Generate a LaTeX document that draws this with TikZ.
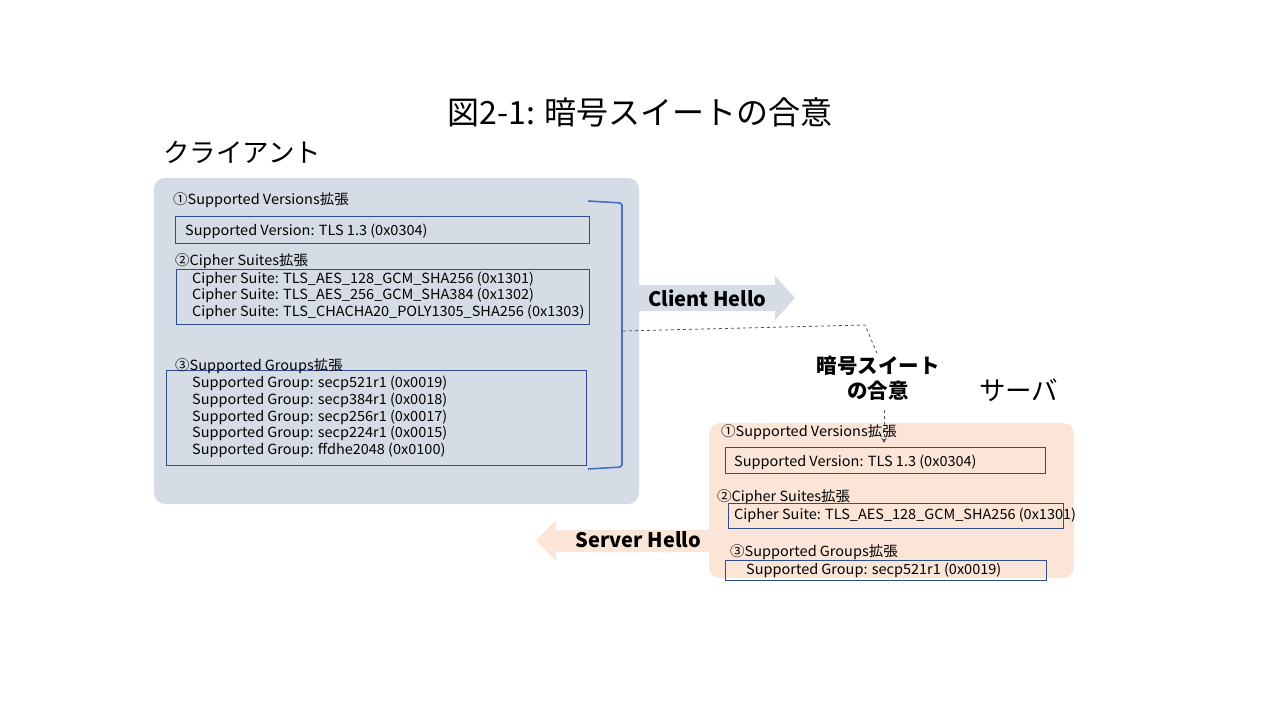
\documentclass[tikz,border=0pt]{standalone}
\usepackage{fontspec}
\setmainfont{Noto Sans CJK JP}
\newfontfamily\smfont[FakeStretch=1.035]{Noto Sans CJK JP}
\usetikzlibrary{arrows.meta}
\definecolor{clientbg}{HTML}{D6DCE5}
\definecolor{serverbg}{HTML}{FBE5D6}
\definecolor{boxline}{HTML}{2F4C8C}
\definecolor{brkcol}{HTML}{4472C4}
\definecolor{dashcol}{HTML}{44546A}
\tikzset{
  sm/.style={anchor=west, inner sep=0pt, font=\smfont\fontsize{14}{16}\selectfont},
  ebox/.style={draw=boxline, line width=0.9pt, inner sep=0pt},
  big/.style={anchor=west, inner sep=0pt, font=\fontsize{26.5}{30}\selectfont},
  hello/.style={inner sep=0pt, font=\bfseries\fontsize{20}{23}\selectfont},
  panel/.style={inner sep=0pt, rounded corners=11pt},
  dline/.style={draw=dashcol, dashed, line width=0.8pt},
}
\begin{document}
\begin{tikzpicture}[x=1pt,y=-1pt]
\useasboundingbox (0,0) rectangle (1280,720);
% title
\node[inner sep=0pt, font=\fontsize{32}{36}\selectfont] (title) at (640,112) {図2-1: 暗号スイートの合意};
\node[big] (client) at (163,152) {クライアント};
\node[big] (server) at (979,390) {サーバ};
% client panel
\node[panel, fill=clientbg, minimum width=485pt, minimum height=326pt] (cpanel) at (396.5,341) {};
% server hello arrow
\fill[serverbg] (709,530) -- (556,530) -- (556,520) -- (536,540.5) -- (556,561) -- (556,552) -- (709,552) -- cycle;
% server panel
\node[panel, fill=serverbg, minimum width=365pt, minimum height=155pt] (spanel) at (891.5,500.5) {};
% client hello arrow
\fill[clientbg] (625,285) -- (775,285) -- (775,276) -- (795,298) -- (775,320) -- (775,311) -- (625,311) -- cycle;
\node[hello] (ch) at (707.5,298) {Client Hello};
\node[hello] (sh) at (638.5,540) {Server Hello};
% client contents
\node[sm] (c1) at (173,200) {①Supported Versions拡張};
\node[ebox, minimum width=414pt, minimum height=27pt] (cb1) at (382,229.5) {};
\node[sm] (c1a) at (185,231) {Supported Version: TLS 1.3 (0x0304)};
\node[sm] (c2) at (175,261) {②Cipher Suites拡張};
\node[ebox, minimum width=413pt, minimum height=55pt] (cb2) at (382.5,296.5) {};
\node[sm] (c2a) at (192,279) {Cipher Suite: TLS\_AES\_128\_GCM\_SHA256 (0x1301)};
\node[sm] (c2b) at (192,295.5) {Cipher Suite: TLS\_AES\_256\_GCM\_SHA384 (0x1302)};
\node[sm] (c2c) at (192,312) {Cipher Suite: TLS\_CHACHA20\_POLY1305\_SHA256 (0x1303)};
\node[ebox, minimum width=420pt, minimum height=95pt] (cb3) at (376,417.5) {};
\node[sm] (c3) at (175,366) {③Supported Groups拡張};
\node[sm] (c3a) at (192,383.5) {Supported Group: secp521r1 (0x0019)};
\node[sm] (c3b) at (192,400) {Supported Group: secp384r1 (0x0018)};
\node[sm] (c3c) at (192,417) {Supported Group: secp256r1 (0x0017)};
\node[sm] (c3d) at (192,433.5) {Supported Group: secp224r1 (0x0015)};
\node[sm] (c3e) at (192,450.5) {Supported Group: ffdhe2048 (0x0100)};
% bracket
\draw[brkcol, line width=1.6pt, rounded corners=2pt] (588,201) -- (622,203) -- (622,467) -- (588,469);
\coordinate (bk) at (623,331);
% server contents
\node[sm] (s1) at (721,432) {①Supported Versions拡張};
\node[ebox, minimum width=320pt, minimum height=26pt] (sb1) at (885,460) {};
\node[sm] (s1a) at (734,462) {Supported Version: TLS 1.3 (0x0304)};
\node[sm] (s2) at (717,497) {②Cipher Suites拡張};
\node[ebox, minimum width=335pt, minimum height=25pt] (sb2) at (895.5,515.5) {};
\node[sm] (s2a) at (734,515) {Cipher Suite: TLS\_AES\_128\_GCM\_SHA256 (0x1301)};
\node[sm] (s3) at (730,552) {③Supported Groups拡張};
\node[ebox, minimum width=321pt, minimum height=20pt] (sb3) at (885.5,570) {};
\node[sm] (s3a) at (746,570) {Supported Group: secp521r1 (0x0019)};
% agreement label
\node[inner sep=0pt, align=center, font=\bfseries\fontsize{20.5}{25}\selectfont] (agree) at (878,378) {暗号スイート\\の合意};
\coordinate (k1) at (865,325);
\draw[dline] (bk) -- (k1) -- (agree.north);
\coordinate (sv) at (884,443);
\coordinate (sv0) at (884,410);
\draw[dline, -{Stealth[length=5pt,width=5pt]}] (sv0) -- (sv);
\end{tikzpicture}
\end{document}
